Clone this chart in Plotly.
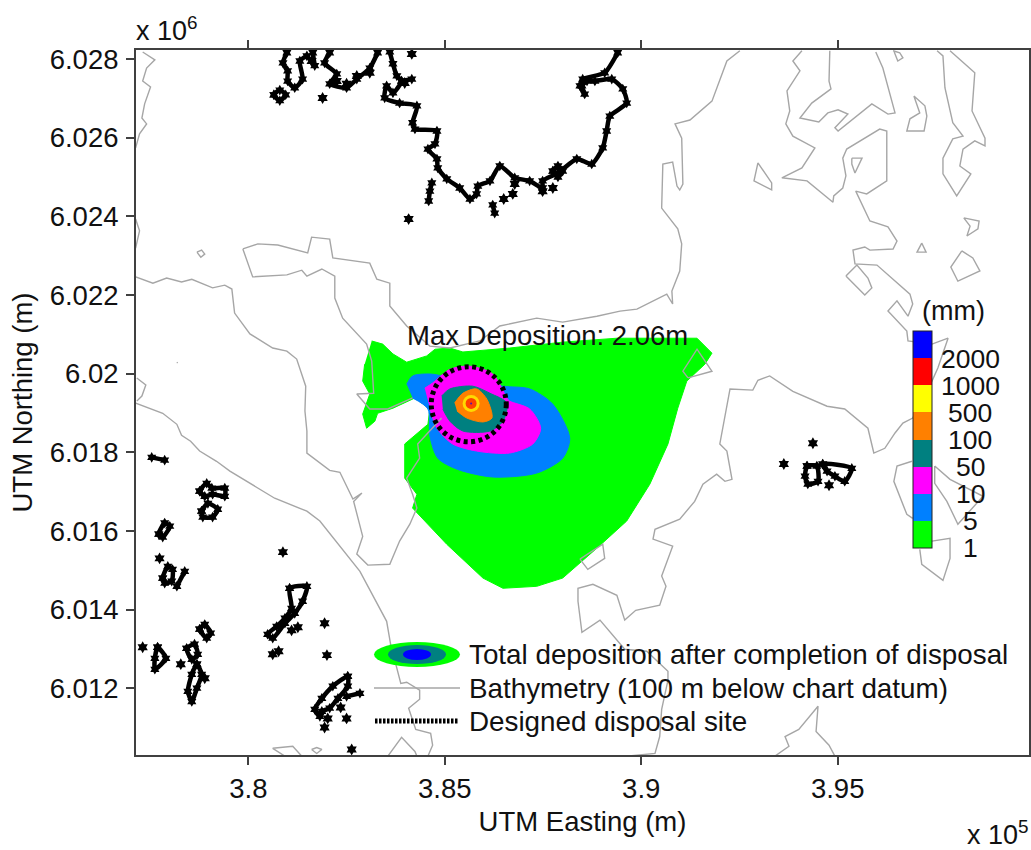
import plotly.graph_objects as go

FONT = "Liberation Sans"
# All eastings / northings in km.
bathy_e = [
 377.31,377.62,377.41,377.31,377.51,377.36,377.29,377.41,377.23,377.13,None,
 377.13,377.23,377.13,None,
 378.69,378.81,378.89,378.79,378.69,None,
 378.18,378.20,None,
 377.16,377.39,377.29,377.16,None,
 377.13,377.57,377.92,378.30,378.56,379.09,379.40,379.58,379.65,380.04,380.62,380.98,381.23,381.46,381.44,381.49,381.49,382.07,382.33,382.66,382.89,382.68,382.91,382.76,383.04,383.60,383.85,384.11,384.29,384.18,384.03,384.36,384.31,384.69,384.92,None,
 379.86,380.24,380.75,381.51,381.61,382.07,382.15,383.09,383.27,383.60,383.60,384.03,384.62,385.13,385.89,386.40,387.34,388.00,388.87,389.46,389.89,390.65,390.80,390.78,390.98,391.03,390.93,390.52,390.55,390.80,390.91,390.98,391.06,391.03,390.86,391.24,391.80,392.18,392.51,None,
 379.86,380.11,380.98,381.36,381.49,381.87,382.20,382.20,382.40,383.01,383.14,383.19,382.76,383.09,383.55,384.18,None,
 377.13,377.82,378.18,378.30,378.53,378.76,379.19,379.53,380.67,381.49,381.82,382.84,383.52,383.62,383.88,384.03,384.36,384.36,384.08,384.26,384.64,384.69,384.57,None,
 391.19,391.06,391.42,391.80,391.19,None,
 394.09,393.86,394.04,393.71,393.78,393.68,393.86,394.42,394.09,393.58,394.22,394.88,394.90,395.13,395.21,395.13,395.23,396.07,396.25,396.25,395.74,395.46,395.82,396.28,396.51,396.41,395.82,395.69,395.39,395.44,396.00,396.84,396.91,396.79,396.51,396.28,396.76,396.79,
 397.40,397.81,397.55,397.40,396.91,396.66,396.46,396.20,395.92,395.77,395.18,394.73,393.86,393.27,392.97,392.84,392.26,392.00,392.18,392.31,392.13,391.92,391.57,391.36,390.98,390.35,390.30,390.80,390.52,390.63,390.47,389.86,389.58,389.38,388.77,388.39,388.39,388.49,388.95,389.58,390.14,390.68,390.68,390.52,390.47,390.35,389.63,None,
 393.40,393.76,393.66,394.01,394.50,394.45,394.78,394.93,None,
 380.93,380.62,381.13,381.36,None,
 381.61,381.74,381.87,381.74,381.61,None,
 383.55,383.90,384.24,384.29,None,
 388.44,389.02,389.07,388.64,388.44,None,
 392.97,392.87,393.32,393.32,392.97,None,
 395.36,395.62,395.44,395.36,395.36,None,
 394.80,394.78,394.83,394.34,394.04,394.52,394.75,395.01,395.26,394.93,395.01,395.87,396.28,396.46,396.15,395.97,None,
 396.41,396.58,396.66,396.53,396.44,None,
 396.94,397.22,397.27,397.20,396.76,396.84,397.09,396.94,None,
 397.53,397.68,397.73,397.93,398.19,397.93,397.68,397.68,398.03,398.39,398.11,398.19,398.49,398.75,398.75,398.42,398.49,397.86,None,
 398.21,398.60,398.57,398.29,398.37,398.21,None,
 397.14,397.25,397.02,397.14,None,
 398.16,398.44,398.62,398.06,397.88,398.16,None,
 395.21,395.49,395.77,395.87,395.69,395.21,None,
 397.47,397.47,397.78,398.06,398.70,397.86,397.47,None,
 396.89,396.51,396.43,396.76,396.91,None,
 397.09,397.14,397.68,397.86,397.86,397.40,
]
bathy_n = [
 6028.18,6027.98,6027.77,6027.44,6027.29,6026.86,6026.50,6026.35,6026.10,6025.74,None,
 6023.93,6023.63,6023.19,None,
 6023.09,6023.14,6023.04,6022.96,6023.09,None,
 6020.29,6020.27,None,
 6019.89,6019.71,6019.43,6019.30,None,
 6022.46,6022.30,6022.43,6022.33,6022.40,6022.18,6022.25,6022.15,6021.54,6021.01,6020.65,6020.57,6020.37,6019.68,6019.05,6018.54,6017.98,6017.54,6017.49,6016.81,6016.96,6016.75,6015.86,6015.41,6015.13,6015.15,6015.74,6016.17,6016.58,6016.93,6017.34,6017.85,6018.21,6018.61,6018.87,None,
 6023.17,6023.30,6023.27,6023.07,6023.47,6023.42,6022.94,6022.81,6022.40,6022.30,6021.72,6021.21,6020.70,6020.65,6020.83,6021.21,6021.41,6021.31,6021.46,6021.59,6021.64,6022.02,6021.77,6022.10,6022.61,6023.30,6023.68,6024.21,6025.33,6025.38,6024.77,6024.67,6024.82,6025.99,6026.35,6026.45,6026.93,6027.95,6028.21,None,
 6023.17,6022.46,6022.51,6022.63,6022.48,6022.66,6022.48,6021.92,6021.41,6020.75,6020.32,6019.50,6019.48,6019.10,6019.10,6019.38,None,
 6019.25,6018.99,6018.71,6018.43,6018.28,6018.03,6017.77,6017.52,6016.83,6016.50,6016.25,6014.97,6013.70,6013.12,6012.12,6012.15,6011.95,6011.72,6011.49,6010.95,6010.85,6010.55,6010.27,None,
 6019.89,6020.06,6020.62,6020.06,6019.89,None,
 6028.21,6027.95,6027.70,6027.19,6026.68,6026.35,6026.04,6025.74,6025.23,6024.98,6024.90,6024.36,6024.52,6024.72,6025.03,6025.48,6025.71,6026.22,6026.17,6024.90,6024.57,6024.64,6023.88,6023.73,6023.37,6023.17,6023.14,6023.22,6023.14,6022.79,6022.76,6022.02,6021.77,6021.46,6021.85,6021.59,6021.08,6020.83,
 6020.75,6020.90,6020.14,6019.81,6018.87,6018.74,6018.49,6018.10,6017.98,6018.61,6019.10,6019.17,6019.55,6019.94,6019.83,6019.58,6019.61,6018.21,6018.03,6017.31,6017.26,6017.44,6017.19,6016.75,6016.30,6016.04,6015.79,6015.61,6014.85,6014.59,6014.11,6013.98,6013.73,6014.36,6014.64,6014.54,6014.21,6013.42,6013.73,6012.99,6012.94,6012.43,6012.20,6011.46,6010.77,6010.34,6010.27,None,
 6010.27,6010.52,6010.77,6010.95,6011.54,6010.90,6010.55,6010.27,None,
 6010.27,6010.47,6010.52,6010.27,None,
 6010.44,6010.49,6010.44,6010.34,6010.44,None,
 6010.27,6010.75,6010.39,6010.27,None,
 6015.28,6015.66,6015.30,6015.02,6015.28,None,
 6025.36,6024.90,6024.67,6024.85,6025.36,None,
 6025.48,6025.48,6025.10,6025.33,6025.48,None,
 6028.21,6027.44,6027.24,6026.88,6026.50,6026.40,6026.63,6026.71,6026.60,6026.25,6026.17,6026.86,6026.60,6026.63,6027.77,6028.18,None,
 6028.21,6028.16,6028.03,6027.95,6028.18,None,
 6027.06,6026.81,6026.55,6026.17,6026.17,6026.48,6026.63,6027.06,None,
 6028.21,6028.08,6027.27,6026.38,6026.04,6025.97,6025.48,6025.08,6024.52,6025.08,6025.28,6025.71,6025.92,6025.79,6025.99,6026.68,6027.65,6028.21,None,
 6023.96,6023.88,6023.68,6023.50,6023.75,6023.96,None,
 6023.32,6023.09,6023.09,6023.32,None,
 6023.12,6022.94,6022.61,6022.35,6022.71,6023.12,None,
 6022.48,6022.76,6022.43,6022.18,6022.00,6022.48,None,
 6017.65,6017.21,6016.75,6016.17,6016.88,6017.31,6017.65,None,
 6017.77,6017.65,6017.26,6016.42,6016.32,None,
 6015.53,6015.15,6014.74,6015.30,6015.81,6015.74,
]
coast_e = [
 383.60,383.68,383.78,383.90,383.68,383.52,383.47,383.85,384.29,384.18,384.24,384.80,384.75,384.57,384.80,384.82,385.05,385.38,385.64,385.81,385.84,386.15,386.40,386.78,387.16,387.49,387.49,387.88,388.36,388.74,389.02,389.12,389.20,389.63,389.53,389.25,388.82,388.62,388.49,388.56,388.44,388.51,389.07,389.40,None,
 380.98,380.88,381.00,381.00,381.18,381.38,381.31,381.49,None,
 382.07,381.94,382.25,382.07,382.50,382.76,383.09,383.29,None,
 381.64,381.69,None,
 380.65,380.80,380.95,380.80,380.65,None,
 383.90,384.16,None,
 384.67,384.62,384.59,None,
 387.75,387.88,388.00,387.88,387.75,None,
 386.22,386.27,None,
 377.54,377.87,None,
 378.76,378.94,379.07,379.40,379.40,379.09,378.89,378.76,None,
 378.81,378.97,379.22,379.09,378.84,378.81,None,
 377.72,377.87,378.00,377.82,377.72,None,
 377.82,377.95,378.07,378.05,377.87,377.82,None,
 378.18,378.38,None,
 378.76,378.89,379.04,378.94,378.76,None,
 377.69,377.90,377.62,377.62,377.69,None,
 378.43,378.63,378.71,378.56,378.43,None,
 378.69,378.81,378.69,378.56,378.46,378.56,378.69,None,
 381.05,381.49,381.38,381.18,380.93,380.62,380.49,380.72,380.93,381.10,381.05,None,
 382.53,382.53,382.28,382.07,381.87,381.82,381.69,381.87,382.15,382.53,None,
 382.50,382.84,None,
 394.22,394.47,394.50,394.24,394.17,394.22,None,
 394.62,395.36,395.18,394.93,394.73,394.62,
]
coast_n = [
 6028.18,6027.88,6027.57,6027.44,6027.14,6027.32,6027.01,6026.88,6026.81,6026.38,6026.22,6026.17,6025.84,6025.71,6025.46,6025.23,6024.95,6024.72,6024.44,6024.57,6024.77,6024.90,6025.28,6024.98,6024.90,6024.72,6024.90,6025.10,6025.46,6025.33,6025.74,6026.17,6026.55,6026.88,6027.24,6027.49,6027.44,6027.44,6027.32,6027.11,6027.32,6027.49,6027.65,6028.16,None,
 6028.16,6027.90,6027.70,6027.44,6027.27,6027.49,6027.95,6028.08,None,
 6028.16,6027.90,6027.62,6027.37,6027.27,6027.49,6027.77,6028.16,None,
 6028.16,6027.83,None,
 6027.09,6027.21,6027.09,6026.94,6027.09,None,
 6027.44,6027.49,None,
 6024.85,6024.64,6024.39,None,
 6025.15,6025.28,6025.15,6025.00,6025.15,None,
 6024.29,6024.08,None,
 6017.87,6017.80,None,
 6017.01,6017.21,6017.09,6017.09,6016.88,6016.93,6016.88,6017.01,None,
 6016.50,6016.70,6016.55,6016.35,6016.35,6016.50,None,
 6015.92,6016.20,6016.12,6015.84,6015.92,None,
 6014.80,6015.10,6015.02,6014.72,6014.67,6014.80,None,
 6014.59,6014.97,None,
 6013.50,6013.62,6013.40,6013.27,6013.50,None,
 6013.04,6012.76,6012.48,6012.76,6013.04,None,
 6013.01,6013.12,6012.86,6012.73,6013.01,None,
 6012.61,6012.35,6012.00,6011.66,6011.92,6012.35,6012.61,None,
 6014.54,6014.59,6014.21,6013.90,6013.65,6013.27,6013.37,6013.57,6013.78,6014.03,6014.54,None,
 6012.30,6012.05,6011.74,6011.49,6011.41,6011.28,6011.46,6011.74,6012.05,6012.30,None,
 6011.79,6011.87,None,
 6017.65,6017.65,6017.26,6017.19,6017.39,6017.65,None,
 6017.70,6017.59,6017.26,6017.39,6017.52,6017.70,
]
rock_e = [381.89,384.16,384.08,386.50,386.73,386.78,387.75,387.49,377.74,380.88,377.31,378.28,378.89,381.10,381.26,381.94,380.62,380.77,382.00,382.35,382.02,382.50,381.94,382.63,394.37,393.63,394.78,382.25,382.50,382.76,381.61,383.09,383.98]
rock_n = [6027.01,6028.13,6023.93,6024.44,6024.57,6024.82,6024.72,6024.64,6015.30,6015.46,6013.04,6012.61,6012.25,6013.47,6013.55,6013.65,6012.86,6012.94,6012.84,6011.51,6011.23,6011.23,6011.00,6010.44,6018.23,6017.70,6017.16,6027.44,6027.37,6027.57,6027.95,6027.65,6027.39]

green_e = [383.14,383.42,383.68,384.03,384.54,384.75,385.13,385.46,386.65,388.00,389.38,391.42,391.80,391.62,391.16,390.93,390.68,390.22,389.63,388.87,388.00,387.34,386.48,385.97,385.05,384.18,384.29,383.98,383.98,384.57,384.62,384.24,383.68,383.29,383.22,383.01,382.91,383.09,382.91,382.96]
green_n = [6020.83,6020.75,6020.50,6020.29,6020.45,6020.62,6020.65,6020.55,6020.65,6020.80,6020.90,6020.90,6020.52,6020.24,6019.81,6019.12,6018.21,6017.19,6016.25,6015.56,6014.80,6014.59,6014.54,6014.80,6015.66,6016.58,6016.93,6017.34,6018.21,6018.71,6019.10,6019.38,6019.12,6018.99,6018.79,6018.61,6018.97,6019.48,6019.81,6020.24]
blue_e = [384.03,384.18,384.62,384.95,386.48,387.16,387.75,388.18,388.00,387.34,386.22,385.31,384.82,384.62,384.57,384.18]
blue_n = [6019.73,6019.94,6019.99,6019.94,6019.68,6019.61,6019.22,6018.36,6017.85,6017.47,6017.37,6017.57,6017.85,6018.41,6019.10,6019.38]
magenta_e = [384.49,384.69,385.13,385.64,386.22,386.58,386.65,387.16,387.44,387.24,386.65,385.81,385.20,384.80,384.62]
magenta_n = [6019.63,6019.76,6020.11,6020.19,6019.99,6019.38,6019.30,6019.10,6018.61,6018.21,6017.98,6018.03,6018.21,6018.61,6019.12]
teal_e = [384.92,385.13,385.71,386.15,386.58,386.48,386.15,385.46,385.13,384.95]
teal_n = [6019.43,6019.61,6019.68,6019.50,6019.25,6018.79,6018.54,6018.54,6018.79,6019.10]
orange_e = [385.25,385.46,385.81,386.07,386.20,385.97,385.56,385.31]
orange_n = [6019.25,6019.50,6019.61,6019.35,6018.87,6018.77,6018.87,6019.05]
peak_e = [385.67,385.67,385.67]
peak_n = [6019.24,6019.24,6019.24]
peak_band = [5.5,6.5,7.5]

site_e, site_n, site_radius = 385.61, 6019.22, 0.955

levels = ["1","5","10","50","100","500","1000","2000"]
band_colors = ["#00FF00","#0080FF","#FF00FF","#008080","#FF8000","#FFFF00","#FF0000","#0000FF"]
x_ticks = [3.8,3.85,3.9,3.95]
x_labels = ["3.8","3.85","3.9","3.95"]
y_ticks = [6.012,6.014,6.016,6.018,6.02,6.022,6.024,6.026,6.028]
y_labels = ["6.012","6.014","6.016","6.018","6.02","6.022","6.024","6.026","6.028"]

ex = lambda v: [None if a is None else a/100 for a in v]
ny = lambda v: [None if a is None else a/1000 for a in v]

W, H = 1031, 850
L, R, T, B = 136, 2, 50, 95
pw, ph = W-L-R, H-T-B
px = lambda x: (x-L)/pw
py = lambda y: (H-B-y)/ph

fig = go.Figure()
def poly(e, n, c, smooth=False):
    fig.add_trace(go.Scatter(x=ex(e), y=ny(n), mode="lines", fill="toself", fillcolor=c,
        line=dict(color=c, width=1, shape="spline" if smooth else "linear", smoothing=0.8),
        showlegend=False, hoverinfo="skip"))
poly(green_e, green_n, band_colors[0])
poly(blue_e, blue_n, band_colors[1], True)
poly(magenta_e, magenta_n, band_colors[2], True)
poly(teal_e, teal_n, band_colors[3], True)
poly(orange_e, orange_n, band_colors[4], True)

fig.add_trace(go.Scatter(x=ex(bathy_e), y=ny(bathy_n), mode="lines",
    line=dict(color="#A6A6A6", width=1.4), showlegend=False, hoverinfo="skip"))
fig.add_trace(go.Scatter(x=ex(coast_e), y=ny(coast_n), mode="lines+markers",
    line=dict(color="black", width=4.5, shape="spline", smoothing=0.6), marker=dict(symbol="hexagram", size=8, color="black"),
    showlegend=False, hoverinfo="skip"))
fig.add_trace(go.Scatter(x=ex(rock_e), y=ny(rock_n), mode="markers",
    marker=dict(symbol="hexagram", size=9, color="black"), showlegend=False, hoverinfo="skip"))

n = len(band_colors)
scale = []
for i, c in enumerate(band_colors):
    scale += [[i/n, c], [(i+1)/n, c]]
fig.add_trace(go.Scatter(x=ex(peak_e), y=ny(peak_n), mode="markers", showlegend=False, hoverinfo="skip",
    marker=dict(size=[17,11,2], color=peak_band, colorscale=scale, cmin=0, cmax=n, line=dict(width=0),
        colorbar=dict(x=px(913), xanchor="left", xpad=0, y=py(331), yanchor="top", ypad=0,
            lenmode="pixels", len=217, thicknessmode="pixels", thickness=19,
            ticks="", showticklabels=False, outlinecolor="#222222", outlinewidth=1, borderwidth=0))))

shapes = [
 dict(type="circle", xref="x", yref="y", x0=(site_e-site_radius)/100, x1=(site_e+site_radius)/100,
      y0=(site_n-site_radius)/1000, y1=(site_n+site_radius)/1000,
      line=dict(color="black", width=5, dash="4px,3.5px")),
 dict(type="circle", xref="paper", yref="paper", x0=px(374), x1=px(460), y0=py(667), y1=py(642),
      fillcolor=band_colors[0], line=dict(width=0)),
 dict(type="circle", xref="paper", yref="paper", x0=px(388), x1=px(446), y0=py(664), y1=py(645),
      fillcolor=band_colors[3], line=dict(width=0)),
 dict(type="circle", xref="paper", yref="paper", x0=px(403), x1=px(431), y0=py(660), y1=py(649),
      fillcolor=band_colors[7], line=dict(width=0)),
 dict(type="line", xref="paper", yref="paper", x0=px(374), x1=px(460), y0=py(688), y1=py(688),
      line=dict(color="#A6A6A6", width=1.4)),
 dict(type="line", xref="paper", yref="paper", x0=px(375), x1=px(459), y0=py(721), y1=py(721),
      line=dict(color="black", width=5, dash="2.5px,1.5px")),
]

def note(text, x, y, size=27.5, anchor="left", angle=0):
    return dict(text=text, xref="paper", yref="paper", x=px(x), y=py(y), xanchor=anchor, yanchor="middle",
                showarrow=False, textangle=angle, font=dict(family=FONT, size=size, color="#111111"))
ann = [
 note("x 10<sup>6</sup>", 134, 29, 27),
 note("x 10<sup>5</sup>", 965, 833, 27),
 note("Max Deposition: 2.06m", 405, 335, 27.5),
 note("(mm)", 953, 311, 27, "center"),
 note("Total deposition after completion of disposal", 467, 654, 27.8),
 note("Bathymetry (100 m below chart datum)", 467, 688, 27.8),
 note("Designed disposal site", 467, 721, 27.8),
]
for i, lab in enumerate(levels):
    ann.append(note(lab, 970, 548-27*i, 26.5, "center"))

axis = dict(showline=True, linecolor="#404040", linewidth=2, mirror="ticks", ticks="outside", ticklen=8,
            tickwidth=1.5, tickcolor="#404040", showgrid=False, zeroline=False,
            tickfont=dict(family=FONT, size=27.5, color="#111111"))
fig.update_layout(width=W, height=H, margin=dict(l=L, r=R, t=T, b=B, autoexpand=False), paper_bgcolor="white", plot_bgcolor="white",
    shapes=shapes, annotations=ann, showlegend=False,
    xaxis=dict(axis, range=[3.7714,3.9987], tickmode="array", tickvals=x_ticks, ticktext=x_labels,
               title=dict(text="UTM Easting (m)", standoff=9, font=dict(family=FONT, size=27.5, color="#111111"))),
    yaxis=dict(axis, range=[6.0103,6.02823], tickmode="array", tickvals=y_ticks, ticktext=y_labels, ticklabelstandoff=2,
               title=dict(text="UTM Northing (m)", standoff=9, font=dict(family=FONT, size=27.5, color="#111111"))))
fig.write_html("out.html", config=dict(displayModeBar=False),
               post_script="document.body.style.margin='0';document.body.style.overflow='hidden';")
